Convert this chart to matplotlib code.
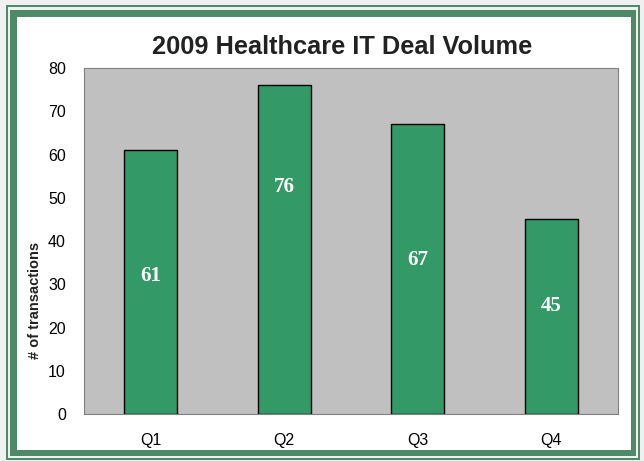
import matplotlib.pyplot as plt
from matplotlib.patches import Rectangle

# Deal counts per quarter
quarters = ['Q1', 'Q2', 'Q3', 'Q4']
deals = [61, 76, 67, 45]
# heights where the value labels sit inside the bars
label_y = [32, 52.5, 35.5, 25]

W, H = 644, 461
fig = plt.figure(figsize=(W / 100, H / 100), dpi=100)
fig.patch.set_facecolor('white')

# frame around the chart (thin outer line + thick inner band)
def px_rect(x0, y0, x1, y1, **kw):
    fig.patches.append(Rectangle((x0 / W, 1 - y1 / H), (x1 - x0) / W, (y1 - y0) / H,
                                 transform=fig.transFigure, figure=fig, zorder=-5, **kw))

px_rect(0, 0, W, H, facecolor='#f0f0f0', edgecolor='none')
px_rect(6, 5, W - 4, H - 1, facecolor='#4e8a68', edgecolor='none')
px_rect(8, 7, W - 6, H - 3, facecolor='#f0f0f0', edgecolor='none')
px_rect(10, 10, W - 8, H - 5, facecolor='#4e8a68', edgecolor='none')
px_rect(17, 17, W - 13, H - 11, facecolor='white', edgecolor='none')

ax = fig.add_axes([84 / W, 1 - 414 / H, (618 - 84) / W, (414 - 68) / H])
ax.set_facecolor('#c0c0c0')
for s in ax.spines.values():
    s.set_color('#808080')

x = range(len(quarters))
ax.bar(x, deals, width=0.4, color='#339966', edgecolor='black', linewidth=1)
for i, v in enumerate(deals):
    ax.text(i, label_y[i], str(v), ha='center', va='center', color='white',
            fontsize=15, fontweight='bold', family='Liberation Serif')

ax.set_xlim(-0.5, 3.5)
ax.set_ylim(0, 80)
ax.set_yticks(range(0, 81, 10))
ax.set_xticks(list(x))
ax.set_xticklabels(quarters)
ax.tick_params(length=0, labelsize=11.5)
for lbl in ax.get_xticklabels() + ax.get_yticklabels():
    lbl.set_family('Liberation Sans')
ax.tick_params(axis='y', pad=13)
ax.tick_params(axis='x', pad=14)

fig.text(35 / W, 1 - 300 / H, '# of transactions', rotation=90, ha='center', va='center',
         fontsize=10.5, fontweight='bold', family='Liberation Sans', color='#222222')
fig.text(342 / W, 1 - 47 / H, '2009 Healthcare IT Deal Volume', ha='center', va='center',
         fontsize=18.3, fontweight='bold', family='Liberation Sans', color='#222222')

fig.savefig('out.png', dpi=100)
